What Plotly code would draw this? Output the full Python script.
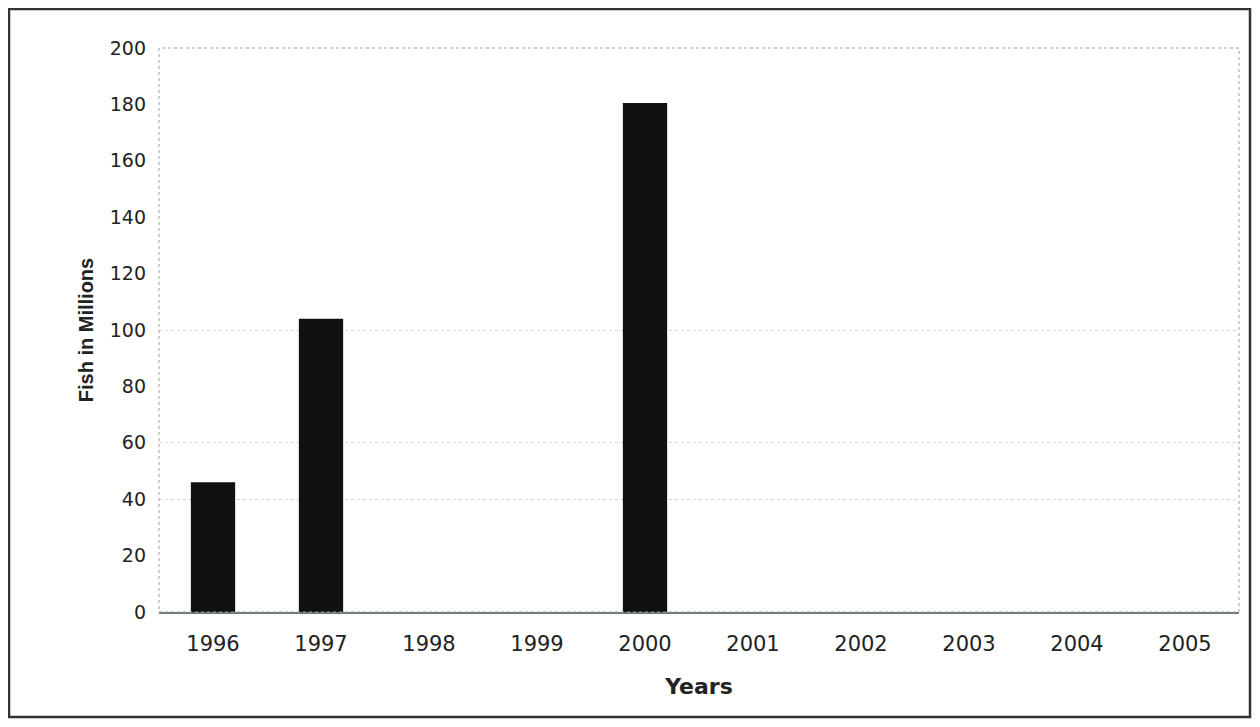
import plotly.graph_objects as go

# data
years = ["1996", "1997", "1998", "1999", "2000", "2001", "2002", "2003", "2004", "2005"]
fish_millions = [46, 104, 0, 0, 180.5, 0, 0, 0, 0, 0]
y_ticks = [0, 20, 40, 60, 80, 100, 120, 140, 160, 180, 200]
grid_values = [40, 60, 100]

# the page has an 8px body margin, so the figure is a bit smaller than the window
W, H = 1244, 711
L, R, T, B = 151, 13, 40, 107
pw, ph = W - L - R, H - T - B

fig = go.Figure()

fig.add_trace(go.Bar(
    x=years, y=fish_millions,
    marker=dict(color="#111111", line=dict(width=0)),
    showlegend=False,
))

# faint dotted gridlines (only a few show in the scan)
fig.add_trace(go.Scatter(x=[None], y=[None], yaxis="y2", showlegend=False, hoverinfo="skip"))

fig.update_layout(
    width=W, height=H,
    margin=dict(l=L, r=R, t=T, b=B),
    paper_bgcolor="white",
    plot_bgcolor="white",
    bargap=0.59,
    font=dict(family="DejaVu Sans, Arial, sans-serif", color="#222222"),
    xaxis=dict(
        showgrid=False, zeroline=False,
        showline=True, linecolor="#6a7a78", linewidth=1.5,
        ticks="", tickfont=dict(size=21),
        ticklabelstandoff=12,
        title=dict(text="<b>Years</b>", font=dict(size=22), standoff=24),
    ),
    yaxis=dict(
        range=[0, 200], tickvals=y_ticks,
        showgrid=False, zeroline=False, showline=False,
        ticks="", tickfont=dict(size=19),
        ticklabelstandoff=12,
        title=dict(text="<b>Fish in Millions</b>",
                   font=dict(size=20, family="Liberation Sans, Arial, sans-serif"),
                   standoff=10),
    ),
    yaxis2=dict(
        overlaying="y", range=[0, 200], tickvals=grid_values,
        showticklabels=False, showgrid=True, gridcolor="#d2d6d6",
        griddash="dot", gridwidth=1, zeroline=False, showline=False,
    ),
)

# dotted plot-area border
fig.add_shape(type="rect", xref="paper", yref="paper", x0=0, y0=0, x1=1, y1=1,
              line=dict(color="#9aa0a0", width=1, dash="dot"), layer="above")

# outer frame around the whole chart
fig.add_shape(type="rect", xref="paper", yref="paper",
              x0=(1 - L) / pw, x1=(W - 2 - L) / pw,
              y0=(H - B - (H - 2)) / ph, y1=(H - B - 1) / ph,
              line=dict(color="#333333", width=2.5))

fig.write_html("out.html")
